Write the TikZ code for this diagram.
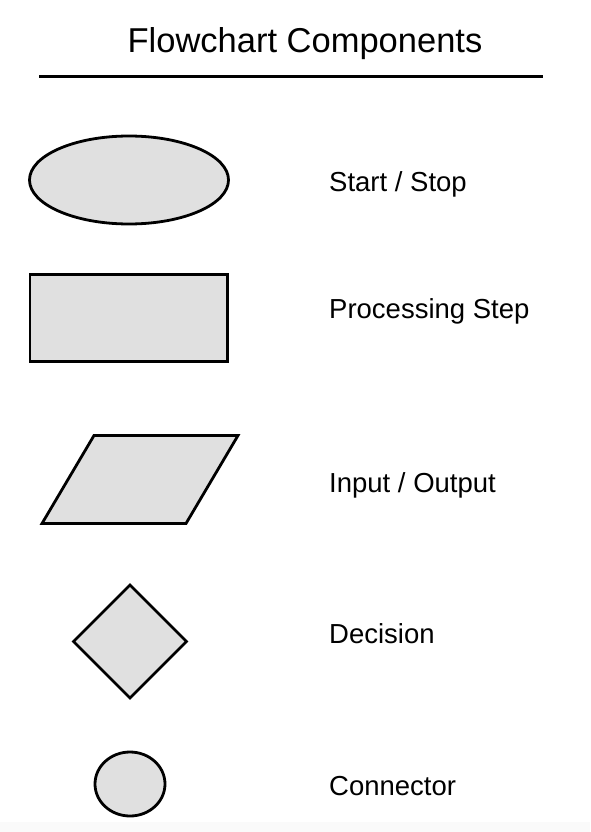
\documentclass[tikz,border=0pt]{standalone}
\usepackage{fontspec}
\setmainfont{Liberation Sans}
\usepackage{tikz}
\usetikzlibrary{calc}
\definecolor{shapegray}{HTML}{E0E0E0}
\tikzset{
	part/.style={draw=black, line width=2.8pt, fill=shapegray, line join=miter},
	partname/.style={anchor=base west, inner sep=0pt, font=\fontsize{27.5}{33}\selectfont}
}

\begin{document}
\begin{tikzpicture}[x=1pt, y=-1pt]
			%%%%% START %%%%%
			
			\useasboundingbox (0, 0) rectangle (590, 832);
			\fill[black!2] (0, 822) rectangle (590, 832);
			
			\node[anchor=base, inner sep=0pt, font=\fontsize{34.5}{41}\selectfont] (title) at (305, 53) {Flowchart Components};
			\draw[line width=3pt] (39, 77) -- (543, 77);
			
			\draw[part] (129, 180) ellipse (99.5pt and 44pt);
			\node[partname] (startstop) at (329, 191) {Start / Stop};
			
			\draw[part] (30, 274.5) rectangle (227.5, 361.5);
			\node[partname] (process) at (329, 318) {Processing Step};
			
			\draw[part] (42, 523.5) -- (186, 523.5) -- (238, 435.5) -- (94, 435.5) -- cycle;
			\node[partname] (inout) at (329, 492) {Input / Output};
			
			\draw[part] (130, 585) -- (186.5, 641.5) -- (130, 698) -- (73.5, 641.5) -- cycle;
			\node[partname] (decision) at (329, 643) {Decision};
			
			\draw[part] (130, 784) ellipse (35pt and 32pt);
			\node[partname] (connector) at (329, 795) {Connector};
			
			%%%%% END %%%%%
\end{tikzpicture}
\end{document}
